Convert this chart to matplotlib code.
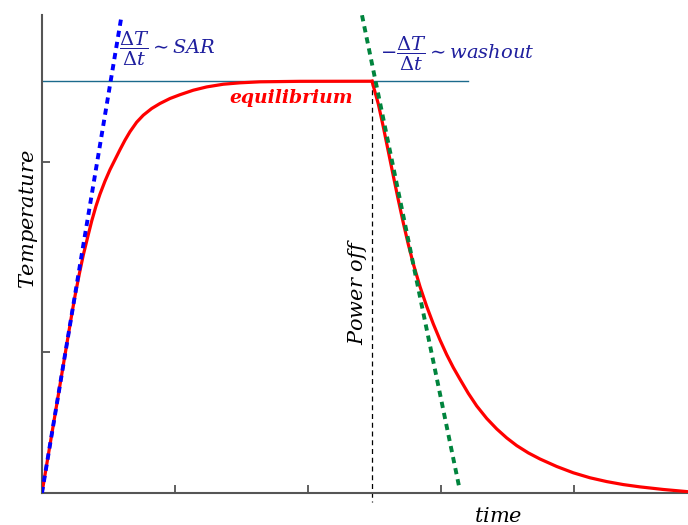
import matplotlib
matplotlib.use("Agg")
import matplotlib.pyplot as plt

plt.rcParams['mathtext.fontset'] = 'dejavuserif'

# heating phase (red curve), time and temperature in arbitrary units
t_rise = [0.0, 0.0376, 0.0752, 0.1128, 0.1504, 0.1880, 0.2256, 0.2481, 0.2805,
          0.3105, 0.3436, 0.3737, 0.4060, 0.4361, 0.4737, 0.5113, 0.5489, 0.5865,
          0.6241, 0.6617, 0.7120, 0.7617, 0.8248, 0.8872, 0.9624, 1.0376, 1.1376,
          1.2383, 1.3632, 1.4887, 1.6391, 1.9398, 2.4812]
T_rise = [0.0, 0.1579, 0.3158, 0.4737, 0.6316, 0.7895, 0.9474, 1.0368, 1.1526,
          1.2526, 1.3474, 1.4316, 1.5105, 1.5737, 1.6421, 1.7026, 1.7553, 1.8079,
          1.8579, 1.9026, 1.9526, 1.9895, 2.0247, 2.0511, 2.0774, 2.0974, 2.1211,
          2.1384, 2.1526, 2.1600, 2.1653, 2.1679, 2.1684]

# cooling phase after power off
t_fall = [2.4812, 2.5286, 2.5662, 2.6038, 2.6414, 2.6789, 2.7165, 2.7541, 2.7917,
          2.8421, 2.8925, 2.9421, 2.9925, 3.0429, 3.0925, 3.1429, 3.2053, 3.2684,
          3.3436, 3.4188, 3.4940, 3.5692, 3.6564, 3.7444, 3.8699, 3.9947, 4.1203,
          4.2459, 4.3707, 4.4962, 4.6714, 4.8459]
T_fall = [2.1684, 2.0489, 1.9279, 1.7989, 1.6700, 1.5437, 1.4226, 1.3095, 1.2068,
          1.0868, 0.9826, 0.8905, 0.8058, 0.7284, 0.6605, 0.5989, 0.5247, 0.4584,
          0.3926, 0.3374, 0.2900, 0.2495, 0.2111, 0.1789, 0.1395, 0.1063, 0.0800,
          0.0600, 0.0442, 0.0321, 0.0184, 0.0074]

# initial slope (SAR) and washout slope
t_sar = [0.0, 0.599]
T_sar = [0.0, 2.516]
t_wash = [2.406, 3.140]
T_wash = [2.516, 0.02]

T_eq = 2.1684
t_off = 2.4812
t_eq_end = 3.2

xticks = [1, 2, 3, 4]
yticks = [0.742, 1.742]

fig = plt.figure(figsize=(6.88, 5.25), dpi=100)
ax = fig.add_axes([0.061, 0.061, 0.939, 0.910])

ax.plot([0, t_eq_end], [T_eq, T_eq], color='#1b6a8c', lw=1.0, zorder=2)
ax.plot([t_off, t_off], [T_eq, -0.045], color='black', lw=0.9,
        ls=(0, (4, 3)), clip_on=False, zorder=2)

ax.plot(t_rise, T_rise, color='#ff0000', lw=2.3, zorder=3, solid_joinstyle='round')
ax.plot(t_fall, T_fall, color='#ff0000', lw=2.3, zorder=3, solid_joinstyle='round')
ax.plot(t_sar, T_sar, color='#0000ff', lw=2.8, ls=(0, (1.6, 1.3)), zorder=4)
ax.plot(t_wash, T_wash, color='#00843d', lw=2.8, ls=(0, (1.6, 1.3)), zorder=4)

ax.set_xlim(0, 4.857)
ax.set_ylim(0, 2.516)
ax.set_xticks(xticks)
ax.set_yticks(yticks)
ax.set_xticklabels([])
ax.set_yticklabels([])
ax.tick_params(direction='in', length=6, width=1.2, color='#444444')

for side in ['top', 'right']:
    ax.spines[side].set_visible(False)
for side in ['left', 'bottom']:
    ax.spines[side].set_color('#555555')
    ax.spines[side].set_linewidth(1.5)

ax.text(-0.105, 1.44, r'$Temperature$', fontsize=15, rotation=90,
        ha='center', va='center', clip_on=False)
ax.text(3.43, -0.12, r'$time$', fontsize=15, ha='center', va='center', clip_on=False)

ax.text(1.87, 2.08, 'equilibrium', color='#ff0000', fontsize=13.5,
        fontstyle='italic', fontweight='bold', family='DejaVu Serif',
        ha='center', va='center')

ax.text(0.58, 2.34, r'$\dfrac{\Delta T}{\Delta t}\sim SAR$', color='#1f1f9e',
        fontsize=14, ha='left', va='center')
ax.text(2.54, 2.31, r'$-\dfrac{\Delta T}{\Delta t}\sim washout$', color='#1f1f9e',
        fontsize=14, ha='left', va='center')
ax.text(2.37, 1.06, r'$Power\ off$', fontsize=15, rotation=90,
        ha='center', va='center')

fig.savefig('out.png', dpi=100)
